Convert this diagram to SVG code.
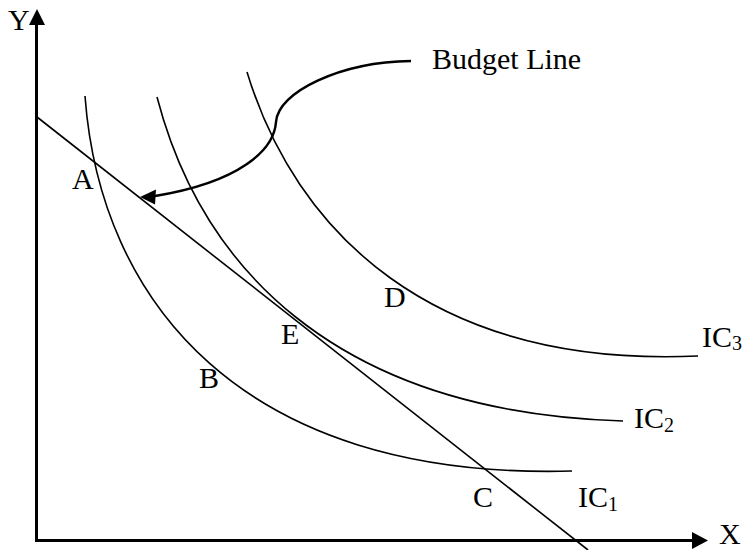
<svg xmlns="http://www.w3.org/2000/svg" width="747" height="550" viewBox="0 0 747 550">
<style>
.axis{stroke:#000;stroke-width:3;fill:none}
.curve{stroke:#000;stroke-width:1.6;fill:none}
.lead{stroke:#000;stroke-width:2.5;fill:none}
.lbl{font-family:"Liberation Serif","Times New Roman",serif;font-size:30px;fill:#000}
.sub{font-size:20px}
</style>
<rect width="747" height="550" fill="#fff"/>
<g id="axes">
<path class="axis" d="M36.5,541 V22 M35,540.5 H695"/>
<polygon points="37,9 29,25 45,25" fill="#000"/>
<polygon points="708,540.5 692,532 692,549" fill="#000"/>
<text class="lbl" x="8" y="30">Y</text>
<text class="lbl" x="719" y="544">X</text>
</g>
<g id="budget-line">
<path class="curve" d="M37,117 L588,550"/>
</g>
<g id="ic1">
<path class="curve" d="M85,96 C100,300 240,480 572,471"/>
<text class="lbl" x="578" y="507">IC<tspan class="sub" dy="4">1</tspan></text>
</g>
<g id="ic2">
<path class="curve" d="M157,97 C200,262 330,412 623,421"/>
<text class="lbl" x="634" y="428">IC<tspan class="sub" dy="4">2</tspan></text>
</g>
<g id="ic3">
<path class="curve" d="M247,72 C295,230 430,368 698,356"/>
<text class="lbl" x="702" y="347">IC<tspan class="sub" dy="3">3</tspan></text>
</g>
<g id="points">
<text class="lbl" x="72" y="189">A</text>
<text class="lbl" x="199" y="388">B</text>
<text class="lbl" x="473" y="507">C</text>
<text class="lbl" x="384" y="307">D</text>
<text class="lbl" x="281" y="344">E</text>
</g>
<g id="connectors">
<path class="lead" d="M411,61 C340,62 278,92 276,122 C274,150 240,182 155,196"/>
<polygon points="140,197 156,189.5 155,204.5" fill="#000"/>
</g>
<g id="budget-label">
<text class="lbl" x="432" y="69">Budget Line</text>
</g>
</svg>
